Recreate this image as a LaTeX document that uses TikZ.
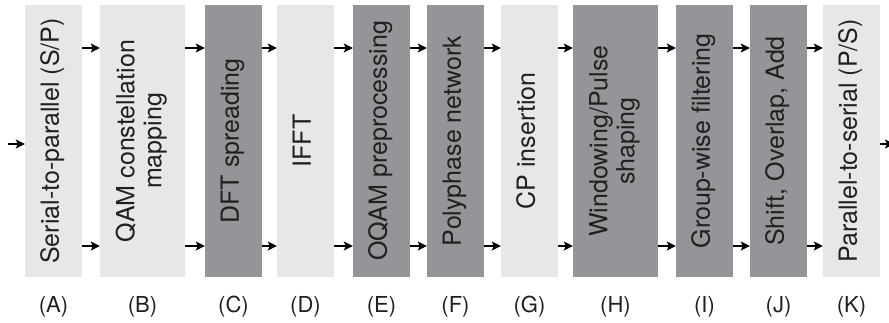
\documentclass[tikz,border=0pt]{standalone}
\usepackage{fontspec}
\setmainfont{TeX Gyre Heros}
\usetikzlibrary{arrows.meta,positioning}

\definecolor{lightblk}{HTML}{E6E7E8}
\definecolor{darkblk}{HTML}{939598}
\definecolor{inkblk}{HTML}{231F20}

\newcommand{\vtxt}[1]{\rotatebox{90}{\begin{tabular}{@{}c@{}}#1\end{tabular}}}

\begin{document}
\begin{tikzpicture}[
  x=1pt,y=-1pt,
  font=\fontsize{25}{27}\selectfont,
  text=inkblk,
  blk/.style={minimum height=272pt,inner sep=0pt,align=center},
  narrow/.style={blk,minimum width=57pt},
  wide/.style={blk,minimum width=85pt},
  lite/.style={fill=lightblk},
  dark/.style={fill=darkblk},
  lab/.style={font=\fontsize{22}{25}\selectfont,inner sep=0pt},
  arr/.style={-{Stealth[length=9pt,width=9pt,inset=2pt]},line width=2pt,draw=black}
]
\useasboundingbox (0,0) rectangle (889,322);

% ---------- rows ----------
\coordinate (top) at (0,48);
\coordinate (bot) at (0,246);
\coordinate (labrow) at (0,307);
\coordinate (in) at (8,144);
\coordinate (out) at (894,144);

% ---------- blocks ----------
\node[narrow,lite] (A) at (53.5,141) {\vtxt{Serial-to-parallel (S/P)}};
\node[wide,lite]   (B) at (142.5,141) {\vtxt{QAM constellation\\ mapping}};
\node[narrow,dark] (C) at (233.5,141) {\vtxt{DFT spreading}};
\node[narrow,lite] (D) at (305.5,141) {\vtxt{IFFT}};
\node[narrow,dark] (E) at (381.5,141) {\vtxt{OQAM preprocessing}};
\node[narrow,dark] (F) at (455.5,141) {\vtxt{Polyphase network}};
\node[narrow,lite] (G) at (529.5,141) {\vtxt{CP insertion}};
\node[wide,dark]   (H) at (615.5,141) {\vtxt{Windowing/Pulse\\ shaping}};
\node[narrow,dark] (I) at (704.5,141) {\vtxt{Group-wise filtering}};
\node[narrow,dark] (J) at (778.5,141) {\vtxt{Shift, Overlap, Add}};
\node[narrow,lite] (K) at (851.5,141) {\vtxt{Parallel-to-serial (P/S)}};

% ---------- labels ----------
\node[lab] (lA) at (A |- labrow) {(A)};
\node[lab] (lB) at (B |- labrow) {(B)};
\node[lab] (lC) at (C |- labrow) {(C)};
\node[lab] (lD) at (D |- labrow) {(D)};
\node[lab] (lE) at (E |- labrow) {(E)};
\node[lab] (lF) at (F |- labrow) {(F)};
\node[lab] (lG) at (G |- labrow) {(G)};
\node[lab] (lH) at (H |- labrow) {(H)};
\node[lab] (lI) at (I |- labrow) {(I)};
\node[lab] (lJ) at (J |- labrow) {(J)};
\node[lab] (lK) at (K |- labrow) {(K)};

% ---------- arrows ----------
\draw[arr] (in) -- (in -| A.west);
\draw[arr] (A.east |- top) -- (B.west |- top);
\draw[arr] (A.east |- bot) -- (B.west |- bot);
\draw[arr] (B.east |- top) -- (C.west |- top);
\draw[arr] (B.east |- bot) -- (C.west |- bot);
\draw[arr] (C.east |- top) -- (D.west |- top);
\draw[arr] (C.east |- bot) -- (D.west |- bot);
\draw[arr] (D.east |- top) -- (E.west |- top);
\draw[arr] (D.east |- bot) -- (E.west |- bot);
\draw[arr] (E.east |- top) -- (F.west |- top);
\draw[arr] (E.east |- bot) -- (F.west |- bot);
\draw[arr] (F.east |- top) -- (G.west |- top);
\draw[arr] (F.east |- bot) -- (G.west |- bot);
\draw[arr] (G.east |- top) -- (H.west |- top);
\draw[arr] (G.east |- bot) -- (H.west |- bot);
\draw[arr] (H.east |- top) -- (I.west |- top);
\draw[arr] (H.east |- bot) -- (I.west |- bot);
\draw[arr] (I.east |- top) -- (J.west |- top);
\draw[arr] (I.east |- bot) -- (J.west |- bot);
\draw[arr] (J.east |- top) -- (K.west |- top);
\draw[arr] (J.east |- bot) -- (K.west |- bot);
\draw[arr] (K.east |- out) -- (out);

\end{tikzpicture}
\end{document}
